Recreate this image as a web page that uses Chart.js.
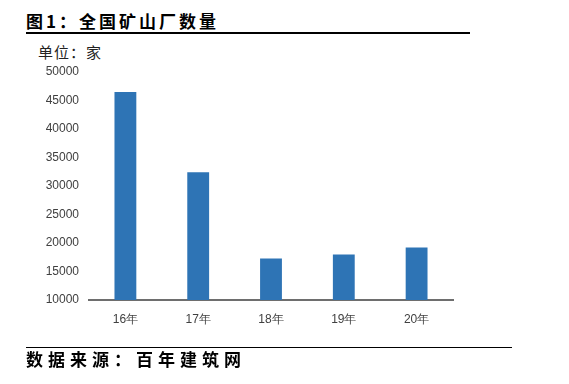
<!DOCTYPE html>
<html>
<head>
<meta charset="utf-8">
<script src="https://cdn.jsdelivr.net/npm/chart.js@4/dist/chart.umd.min.js"></script>
<style>
    body { margin: 0; background: #fff; }
    #wrap { position: relative; width: 569px; height: 384px; overflow: hidden; }
    #grafica { position: absolute; left: 0; top: 0; }
    .txt { position: absolute; font-family: "Noto Sans CJK SC", sans-serif; white-space: nowrap; }
    .linea { position: absolute; background: #000; }
</style>
</head>
<body>
<div id="wrap">
    <div class="txt" style="left:26px; top:8px; font-size:17px; font-weight:700; letter-spacing:3px; color:#000;">图1：全国矿山厂数量</div>
    <div class="linea" style="left:26px; top:32px; width:444px; height:1.5px;"></div>
    <div class="txt" style="left:38px; top:41px; font-size:15px; letter-spacing:1px; color:#222;">单位：家</div>
    <canvas id="grafica" width="569" height="384"></canvas>
    <div class="linea" style="left:26px; top:347px; width:486px; height:1px;"></div>
    <div class="txt" style="left:26px; top:346px; font-size:17px; font-weight:700; letter-spacing:5px; color:#000;">数据来源：百年建筑网</div>
</div>
<script>
// DATOS
const categorias = ['16年', '17年', '18年', '19年', '20年'];
const valores = [46500, 32400, 17300, 18000, 19200];
const ticksY = [10000, 15000, 20000, 25000, 30000, 35000, 40000, 45000, 50000];

const ctx = document.getElementById('grafica').getContext('2d');

new Chart(ctx, {
    type: 'bar',
    data: {
        labels: categorias,
        datasets: [{
            data: valores,
            backgroundColor: '#2e74b5',
            categoryPercentage: 1,
            barPercentage: 0.3
        }]
    },
    options: {
        responsive: false,
        animation: false,
        layout: { padding: { top: 72, right: 116, bottom: 54, left: 0 } },
        plugins: { legend: { display: false }, tooltip: { enabled: false } },
        scales: {
            x: {
                grid: { display: false, drawTicks: false },
                border: { display: true, color: '#6e6e6e', width: 2 },
                ticks: { color: '#404040', font: { family: 'Liberation Sans', size: 12 }, padding: 12 },
                afterFit: (s) => { s.height = 30; }
            },
            y: {
                min: 10000,
                max: 50000,
                afterBuildTicks: (s) => { s.ticks = ticksY.map(v => ({ value: v })); },
                grid: { display: false, drawTicks: false },
                border: { display: false },
                ticks: {
                    color: '#404040',
                    font: { family: 'Liberation Sans', size: 12 },
                    padding: 10,
                    callback: (v) => String(v)
                },
                afterFit: (s) => { s.width = 89; }
            }
        }
    }
});
</script>
</body>
</html>
